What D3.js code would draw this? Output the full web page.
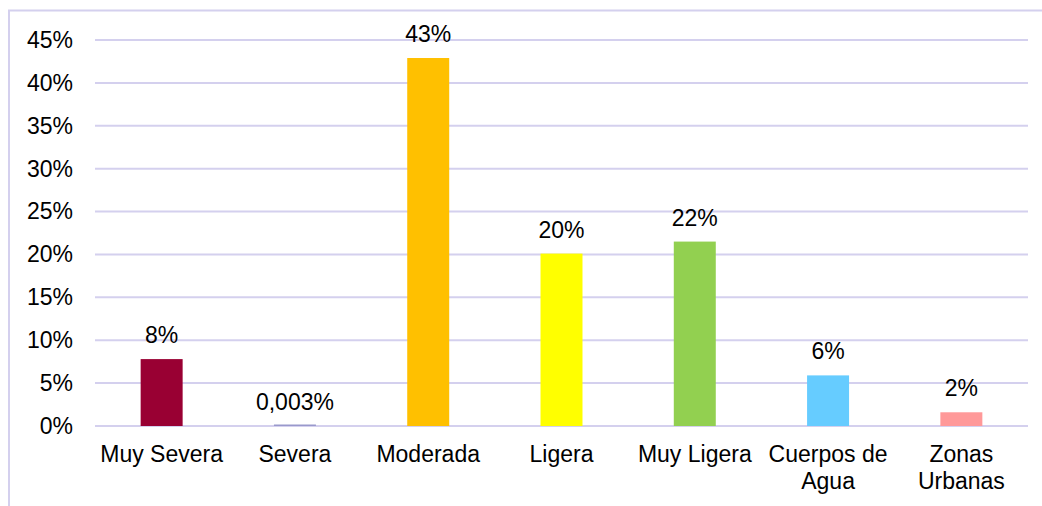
<!DOCTYPE html>
<meta charset="utf-8">
<style>
  body { margin: 0; background: #fff; }
  text { font-family: Arial, "Liberation Sans", sans-serif; fill: #000; }
</style>
<div id="chart"></div>
<script src="https://d3js.org/d3.v7.min.js"></script>
<script>
// data
var categories = ["Muy Severa", "Severa", "Moderada", "Ligera", "Muy Ligera", "Cuerpos de Agua", "Zonas Urbanas"];
var categoryLines = [["Muy Severa"], ["Severa"], ["Moderada"], ["Ligera"], ["Muy Ligera"], ["Cuerpos de", "Agua"], ["Zonas", "Urbanas"]];
var values = [7.8, 0.003, 42.9, 20.1, 21.5, 5.9, 1.6];
var valueLabels = ["8%", "0,003%", "43%", "20%", "22%", "6%", "2%"];
var barColors = ["#990033", "#9999CC", "#FFC000", "#FFFF00", "#92D050", "#66CCFF", "#FF9999"];
var yTicks = [0, 5, 10, 15, 20, 25, 30, 35, 40, 45];

var W = 1042, H = 506;
var margin = {top: 40, right: 14, bottom: 80, left: 95};
var width = 1028 - margin.left, height = 426 - margin.top;

var svg = d3.select("#chart").append("svg")
  .attr("width", W).attr("height", H);

// chart frame
svg.append("rect")
  .attr("x", 9).attr("y", 10.5)
  .attr("width", W + 20).attr("height", H + 20)
  .attr("fill", "none")
  .attr("stroke", "#D4D0EE")
  .attr("stroke-width", 2);

var g = svg.append("g")
  .attr("transform", "translate(" + margin.left + "," + margin.top + ")");

var x = d3.scaleBand().domain(categories).range([0, width]).paddingInner(0.685).paddingOuter(0.3425);
var y = d3.scaleLinear().domain([0, 45]).range([height, 0]);

// gridlines
g.selectAll(".grid").data(yTicks).enter().append("line")
  .attr("x1", 0).attr("x2", width)
  .attr("y1", function(d) { return y(d); })
  .attr("y2", function(d) { return y(d); })
  .attr("stroke", "#D4D0EE")
  .attr("stroke-width", 2);

// y axis labels
var yAxis = g.append("g")
  .call(d3.axisLeft(y).tickValues(yTicks).tickSize(0).tickPadding(22).tickFormat(function(d) { return d + "%"; }));
yAxis.select(".domain").remove();
yAxis.selectAll("text")
  .style("font-size", "23px")
  .style("font-family", "Arial, 'Liberation Sans', sans-serif")
  .attr("fill", "#000");

// bars
g.selectAll(".bar").data(values).enter().append("rect")
  .attr("x", function(d, i) { return x(categories[i]); })
  .attr("width", x.bandwidth())
  .attr("y", function(d) { return Math.min(y(d), height - 1.5); })
  .attr("height", function(d) { return Math.max(height - y(d), 1.5); })
  .attr("fill", function(d, i) { return barColors[i]; });

// value labels
g.selectAll(".val").data(values).enter().append("text")
  .attr("x", function(d, i) { return x(categories[i]) + x.bandwidth() / 2; })
  .attr("y", function(d) { return y(d) - 16; })
  .attr("text-anchor", "middle")
  .style("font-size", "23px")
  .text(function(d, i) { return valueLabels[i]; });

// category labels
var cat = g.selectAll(".cat").data(categories).enter().append("text")
  .attr("x", function(d) { return x(d) + x.bandwidth() / 2; })
  .attr("y", height + 36)
  .attr("text-anchor", "middle")
  .style("font-size", "23px");
cat.each(function(d, i) {
  var t = d3.select(this);
  categoryLines[i].forEach(function(line, j) {
    t.append("tspan")
      .attr("x", x(d) + x.bandwidth() / 2)
      .attr("dy", j === 0 ? 0 : 27)
      .text(line);
  });
});
</script>
